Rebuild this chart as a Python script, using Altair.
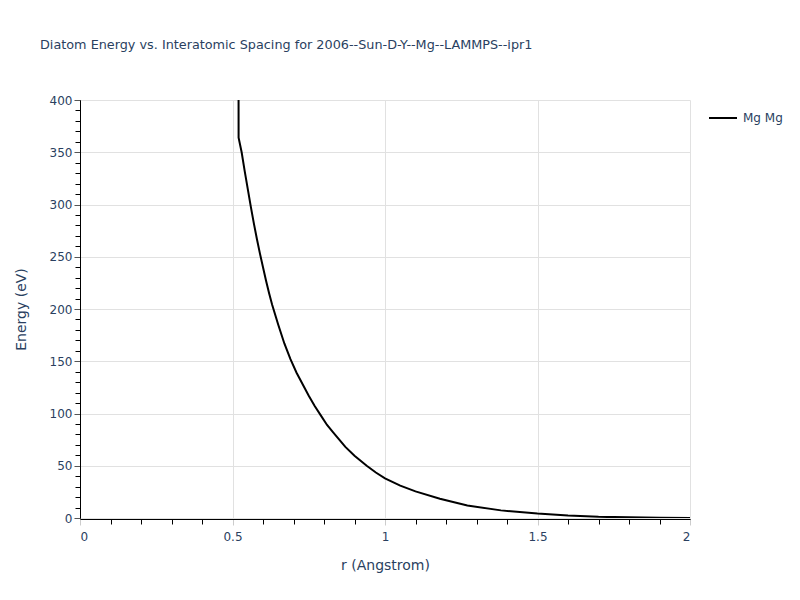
import altair as alt
import pandas as pd

TITLE = "Diatom Energy vs. Interatomic Spacing for 2006--Sun-D-Y--Mg--LAMMPS--ipr1"

r_vals = [0.518, 0.52, 0.53, 0.54, 0.55, 0.56, 0.57, 0.58, 0.59, 0.60, 0.61, 0.62,
          0.63, 0.65, 0.67, 0.69, 0.71, 0.73, 0.75, 0.77, 0.79, 0.81, 0.83, 0.85,
          0.87, 0.90, 0.94, 0.97, 1.0, 1.05, 1.1, 1.18, 1.27, 1.38, 1.5, 1.6,
          1.7, 1.8, 1.9, 2.0]
energy = [1000, 364, 350, 332, 315, 298, 282, 267, 253, 240, 227, 215,
          204, 185, 167, 152, 139, 128, 117, 107, 98, 89, 82, 75,
          68, 59.5, 50, 43.5, 38, 31, 25.5, 18.5, 12, 7.3, 4.2, 2.3,
          1.1, 0.6, 0.3, 0.0]
series = ["Mg Mg"] * len(r_vals)

x_major = [0, 0.5, 1, 1.5, 2]
x_minor = [round(i * 0.1, 1) for i in range(21)]
y_major = list(range(0, 401, 50))
y_minor = list(range(0, 401, 10))

df = pd.DataFrame({"r": r_vals, "E": energy, "pair": series})

FONT = "DejaVu Sans"
TXT = "#2a3f5f"

base = alt.Chart(df)

main = base.mark_line(color="black", strokeWidth=2, clip=True).encode(
    x=alt.X("r:Q", scale=alt.Scale(domain=[0, 2], nice=False),
            axis=alt.Axis(values=x_major, orient="bottom", title="r (Angstrom)", grid=True,
                          gridColor="#e1e1e1", domainColor="black", tickColor="#cccccc",
                          tickSize=6, labelPadding=6, titlePadding=16,
                          format="~g", offset=1)),
    y=alt.Y("E:Q", scale=alt.Scale(domain=[0, 400], nice=False),
            axis=alt.Axis(values=y_major, orient="left", title="Energy (eV)", grid=True,
                          gridColor="#e1e1e1", domainColor="black", tickColor="#555555",
                          tickSize=6, labelPadding=2, titlePadding=21)),
    color=alt.Color("pair:N", scale=alt.Scale(range=["black"]),
                    legend=alt.Legend(title=None, orient="none", legendX=628, legendY=3,
                                      symbolType="stroke", symbolStrokeWidth=2,
                                      symbolSize=784, labelFontSize=12, labelColor=TXT,
                                      labelFont=FONT, labelOffset=5)),
)

minor = base.mark_line(opacity=0).encode(
    x=alt.X("r:Q", scale=alt.Scale(domain=[0, 2], nice=False),
            axis=alt.Axis(values=x_minor, orient="bottom", labels=False, title=None,
                          grid=False, domain=False, tickColor="black", tickSize=5, offset=1)),
    y=alt.Y("E:Q", scale=alt.Scale(domain=[0, 400], nice=False),
            axis=alt.Axis(values=y_minor, orient="left", labels=False, title=None,
                          grid=False, domain=False, tickColor="black", tickSize=5)),
)

title_layer = alt.Chart(pd.DataFrame({"t": [TITLE]})).mark_text(
    align="left", baseline="alphabetic", font=FONT, fontSize=12.8, color=TXT
).encode(text="t:N", x=alt.value(-40), y=alt.value(-51))

chart = alt.layer(minor, main, title_layer).resolve_axis(
    x="independent", y="independent"
).properties(
    width=610, height=418,
    padding={"left": 72, "top": 92, "right": 94, "bottom": 70},
    autosize=alt.AutoSizeParams(type="none"),
).configure_axis(
    labelFont=FONT, labelFontSize=12, labelColor=TXT,
    titleFont=FONT, titleFontSize=14, titleColor=TXT, titleFontWeight="normal",
).configure_view(stroke=None)

chart.save("out.html", embed_options={"renderer": "svg", "actions": False})
